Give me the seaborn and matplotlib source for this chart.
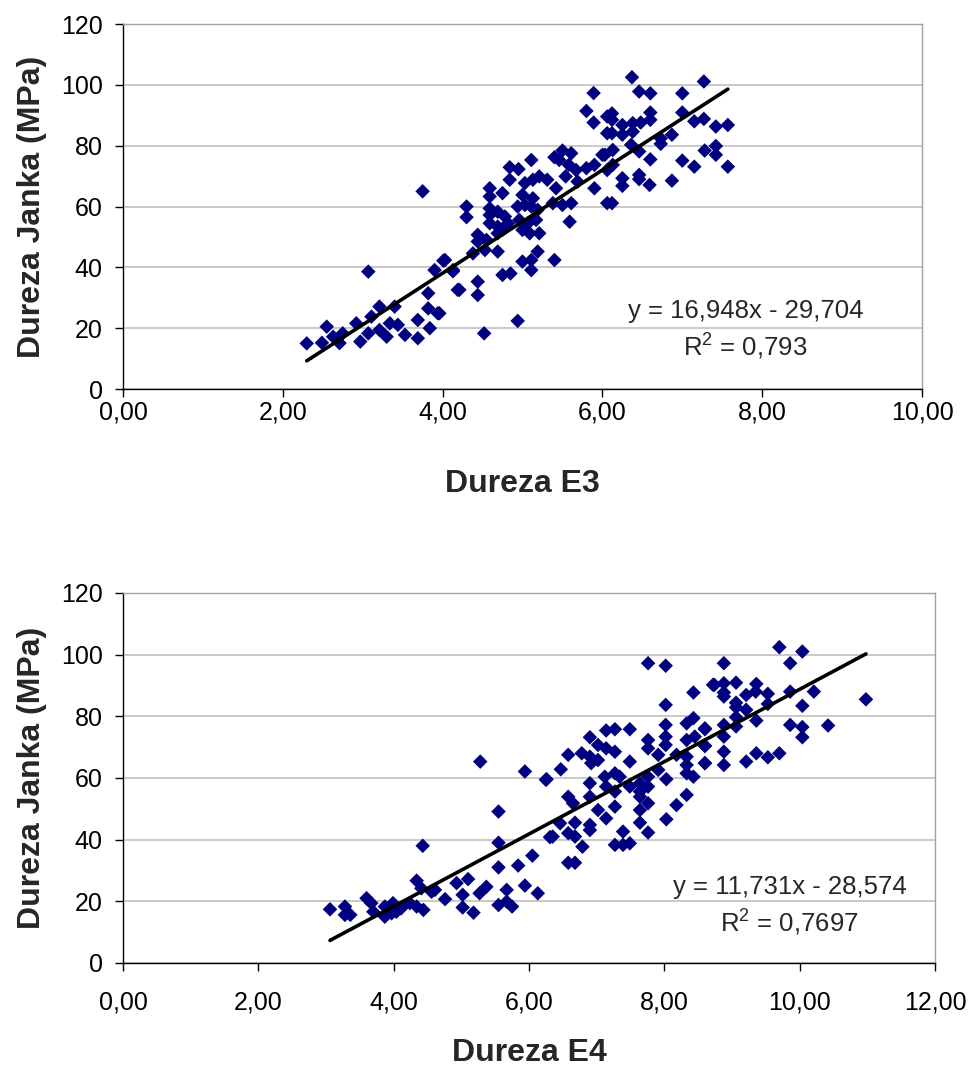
import numpy as np
import pandas as pd
import seaborn as sns
import matplotlib
matplotlib.use("Agg")
import matplotlib.pyplot as plt

# --- Dureza E3 vs Janka ---
e3_x = [3.75, 3.07, 2.30, 2.49, 2.55, 2.63, 2.71, 2.75, 2.92, 2.97, 3.07, 3.11, 3.21, 3.21, 3.30,
        3.34, 3.40, 3.44, 3.53, 3.69, 3.69, 3.82, 3.82, 3.84, 3.94, 3.90, 4.01, 4.13, 4.19,
        5.89, 5.80, 5.89, 6.06, 6.06, 5.11, 4.84, 4.95, 5.40, 5.50, 5.61, 5.46, 5.58, 5.67,
        5.80, 5.90, 6.00, 6.06, 5.54, 5.69, 5.90, 6.06, 4.84, 4.59, 4.59, 4.75, 5.03, 5.13,
        5.21, 5.31, 5.42, 5.00, 5.13, 5.38, 5.50, 5.61, 4.30, 4.30, 4.59, 4.59, 4.69, 4.78,
        4.94, 5.03, 5.11, 5.19, 4.59, 4.69, 4.82, 4.96, 5.07, 5.17, 5.00, 5.09, 5.21, 5.59,
        4.44, 4.55, 4.44, 4.69, 4.75, 4.53, 4.69, 4.38, 5.19, 5.11, 5.00, 5.11, 5.40, 4.03,
        4.13, 4.75, 4.85, 4.44, 4.21, 4.44, 3.96, 4.94, 4.52,
        6.37, 7.27, 6.46, 6.60, 7.00, 6.12, 6.12, 6.60, 6.60, 7.00, 7.15, 7.27, 7.42, 7.57,
        6.25, 6.38, 6.48, 6.12, 6.25, 6.38, 6.73, 6.73, 6.87, 6.36, 6.46, 6.13, 6.03, 7.42,
        7.28, 7.42, 6.60, 7.00, 7.15, 7.57, 6.13, 6.46, 6.46, 6.25, 6.25, 6.59, 6.87, 6.12]
e3_y = [65.0, 38.6, 15.0, 15.2, 20.5, 17.2, 15.1, 18.3, 21.6, 15.6, 18.3, 23.8, 27.1, 19.4, 17.2,
        21.6, 27.1, 21.1, 17.8, 22.7, 16.7, 31.5, 26.5, 20.0, 24.9, 39.1, 42.2, 39.1, 32.6,
        97.3, 91.4, 87.6, 89.6, 84.1, 75.3, 72.9, 72.3, 76.2, 78.4, 77.5, 75.3, 73.7, 72.0,
        72.6, 73.7, 77.0, 72.0, 69.9, 68.2, 66.0, 61.1, 68.8, 66.0, 63.3, 64.4, 67.7, 68.8,
        69.9, 68.8, 66.0, 63.8, 62.7, 61.1, 60.5, 61.1, 60.0, 56.5, 59.4, 57.2, 58.3, 56.7,
        60.0, 60.5, 60.0, 58.9, 54.5, 53.4, 54.5, 55.6, 54.5, 55.6, 52.3, 51.2, 51.2, 55.0,
        50.7, 49.0, 48.5, 51.2, 52.3, 45.7, 45.2, 44.6, 45.2, 42.4, 41.9, 39.1, 42.4, 42.4,
        38.7, 37.5, 38.0, 35.3, 32.6, 30.9, 24.9, 22.4, 18.3,
        102.5, 101.1, 97.8, 97.2, 97.2, 90.6, 88.5, 90.9, 88.5, 90.9, 88.0, 88.8, 86.3, 86.8,
        86.8, 87.4, 87.6, 84.1, 83.6, 84.6, 82.4, 80.6, 83.6, 80.3, 78.1, 78.6, 77.0, 79.9,
        78.4, 77.0, 75.5, 75.1, 73.1, 73.1, 73.7, 70.4, 69.0, 69.3, 66.8, 67.1, 68.5, 61.1]

# --- Dureza E4 vs Janka ---
e4_x = [5.28, 5.94, 6.25, 5.55, 5.55, 4.43, 6.31, 6.05, 5.84, 5.55, 5.94, 6.13, 4.34, 4.41, 4.56,
        4.61, 4.93, 5.10, 5.37, 5.27, 5.67, 5.02, 4.76, 3.06, 3.28, 3.28, 3.36, 3.60, 3.67,
        3.70, 3.87, 3.87, 3.99, 4.04, 4.11, 4.24, 4.34, 4.44, 5.02, 5.18, 5.55, 5.67, 5.75, 3.97,
        7.76, 8.02, 8.02, 8.43, 8.72, 7.49, 7.14, 7.27, 6.90, 7.02, 6.78, 6.58, 7.14, 7.27,
        6.90, 7.02, 6.92, 7.49, 7.76, 7.76, 8.02, 8.02, 8.02, 7.91, 8.33, 8.43, 8.60, 8.33,
        8.45, 8.60, 8.18, 8.33, 8.33, 8.60, 6.26, 6.47, 6.90, 7.12, 7.14, 7.27, 7.34, 7.27,
        7.49, 7.64, 7.76, 7.64, 7.76, 7.91, 8.03, 8.33, 8.43, 6.58, 6.65, 6.90, 7.64, 7.76,
        7.64, 7.27, 7.02, 7.14, 8.33, 8.18, 8.03, 6.46, 6.68, 6.90, 6.90, 7.64, 7.76, 7.39,
        6.35, 6.58, 6.68, 6.79, 7.27, 7.39, 7.49, 6.58, 6.68,
        9.70, 10.04, 8.88, 9.86, 8.74, 8.88, 9.06, 9.36, 8.88, 8.88, 9.21, 9.35, 9.53, 9.86,
        10.21, 10.98, 9.06, 9.06, 9.21, 9.53, 10.04, 9.06, 9.36, 9.06, 8.60, 8.88, 9.86, 10.04,
        10.42, 10.04, 8.88, 8.60, 8.88, 9.36, 9.53, 9.70, 9.21, 8.60, 8.88]
e4_y = [65.3, 62.1, 59.4, 49.1, 39.0, 38.0, 40.8, 34.8, 31.6, 31.0, 25.1, 22.6, 26.7, 24.2, 23.1,
        23.7, 25.9, 27.2, 24.7, 22.6, 23.7, 22.1, 20.7, 17.4, 18.3, 15.6, 15.6, 21.0, 19.4,
        16.6, 18.3, 15.0, 19.4, 16.6, 17.7, 19.4, 18.3, 17.2, 18.0, 16.3, 18.8, 19.9, 18.3, 16.1,
        97.2, 96.4, 83.7, 87.7, 90.2, 75.8, 75.4, 75.8, 73.2, 70.7, 68.0, 67.5, 69.6, 68.5,
        66.9, 65.8, 64.8, 65.3, 72.3, 69.6, 77.2, 73.4, 70.7, 67.5, 77.7, 79.4, 75.8, 72.3,
        73.4, 70.4, 67.5, 66.9, 64.2, 64.8, 59.6, 62.8, 58.3, 60.4, 57.2, 61.5, 60.4, 55.6,
        57.2, 58.3, 60.4, 55.6, 57.2, 62.6, 59.6, 61.5, 60.4, 53.9, 51.8, 53.9, 53.9, 51.8,
        49.6, 50.7, 49.6, 46.9, 54.5, 51.2, 46.6, 45.3, 45.5, 44.8, 43.1, 45.5, 42.3, 42.6,
        41.0, 42.1, 41.0, 37.7, 38.3, 38.3, 38.8, 32.5, 32.5,
        102.4, 101.0, 97.2, 97.2, 90.2, 90.7, 90.9, 90.5, 87.7, 86.4, 86.9, 88.0, 87.3, 88.0,
        88.0, 85.5, 84.4, 82.9, 82.1, 84.0, 83.4, 79.7, 78.6, 76.7, 76.1, 77.2, 77.2, 76.5,
        77.0, 73.2, 73.4, 70.4, 68.5, 68.0, 66.7, 68.0, 65.3, 64.8, 64.2]

# trendline coefficients printed on the chart
e3_fit = (16.948, -29.704, "y = 16,948x - 29,704", r"R$^{2}$ = 0,793")
e4_fit = (11.731, -28.574, "y = 11,731x - 28,574", r"R$^{2}$ = 0,7697")

y_ticks = [0, 20, 40, 60, 80, 100, 120]
e3_xticks = [0, 2, 4, 6, 8, 10]
e4_xticks = [0, 2, 4, 6, 8, 10, 12]

sns.set_style("white")
plt.rcParams['font.family'] = ['Liberation Sans', 'DejaVu Sans']
plt.rcParams['mathtext.fontset'] = 'custom'
plt.rcParams['mathtext.rm'] = 'Liberation Sans'
plt.rcParams['mathtext.default'] = 'rm'

navy = "#000080"
fig = plt.figure(figsize=(9.69, 10.67), dpi=100)
ax1 = fig.add_axes([0.1269, 0.6354, 0.8246, 0.3421])
ax2 = fig.add_axes([0.1269, 0.0975, 0.8380, 0.3468])


def panel(ax, xs, ys, fit, xticks, xlabel, eq_pos, xpad, xlabelpad):
    df = pd.DataFrame({"x": xs, "y": ys})
    sns.scatterplot(data=df, x="x", y="y", marker="D", color=navy,
                    s=55, edgecolor="none", ax=ax, zorder=3)
    slope, inter, eq, r2 = fit
    line = pd.DataFrame({"x": [df.x.min(), df.x.max()]})
    line["y"] = slope * line.x + inter
    sns.lineplot(data=line, x="x", y="y", color="black", lw=2.6, ax=ax, zorder=4)

    ax.set_xlim(xticks[0], xticks[-1])
    ax.set_ylim(0, 120)
    ax.set_xticks(xticks)
    ax.set_xticklabels([f"{t:.2f}".replace(".", ",") for t in xticks])
    ax.set_yticks(y_ticks)
    ax.set_yticklabels([str(t) for t in y_ticks])
    ax.yaxis.grid(True, color="#c0c0c0", lw=1.2)
    ax.set_axisbelow(True)
    for s in ["top", "right"]:
        ax.spines[s].set_color("#a0a0a0")
        ax.spines[s].set_linewidth(1.0)
    for s in ["left", "bottom"]:
        ax.spines[s].set_color("black")
        ax.spines[s].set_linewidth(1.0)
    ax.tick_params(axis="both", direction="out", length=5.5, width=1,
                   labelsize=18, colors="black", left=True, bottom=True)
    ax.tick_params(axis="x", pad=xpad)
    ax.tick_params(axis="y", pad=9)
    ax.set_xlabel(xlabel, fontsize=23, fontweight="bold", labelpad=xlabelpad)
    ax.set_ylabel("Dureza Janka (MPa)", fontsize=23, fontweight="bold", labelpad=10)
    ax.text(eq_pos[0], eq_pos[1], eq, fontsize=18.5, ha="center", va="center")
    ax.text(eq_pos[0], eq_pos[1] - 11.5, r2, fontsize=18.5, ha="center", va="center")


panel(ax1, e3_x, e3_y, e3_fit, e3_xticks, "Dureza E3", (7.79, 25.5), 3, 32)
panel(ax2, e4_x, e4_y, e4_fit, e4_xticks, "Dureza E4", (9.85, 24.6), 14, 17)

fig.savefig("out.png", dpi=100, facecolor="white")
